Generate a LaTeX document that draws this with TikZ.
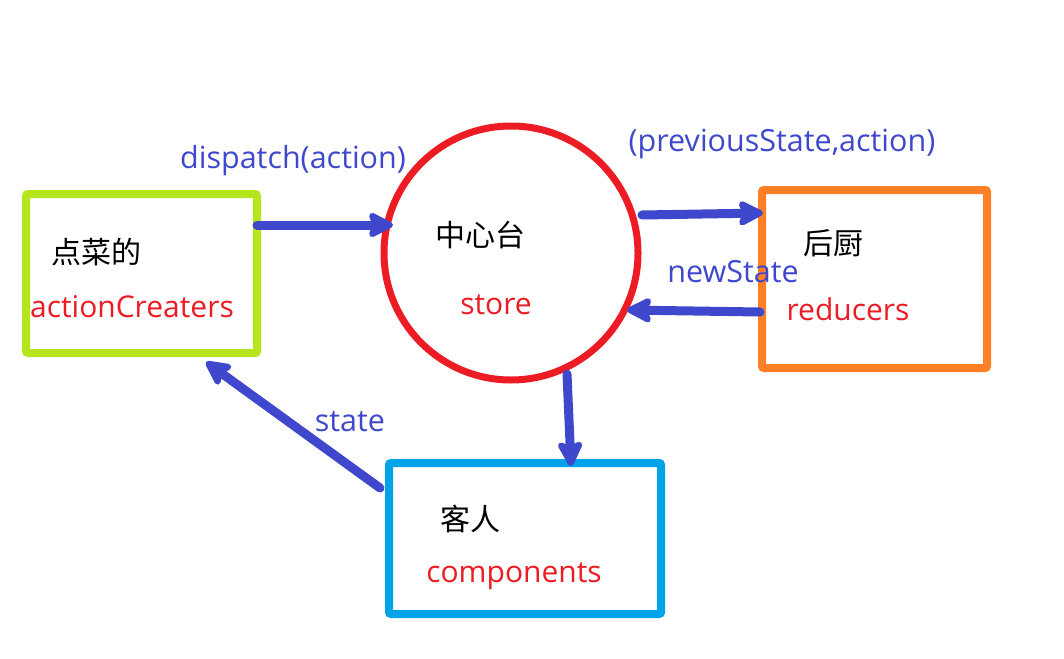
\documentclass[tikz,border=0pt]{standalone}
\usepackage{fontspec}
\setmainfont{Open Sans}
\newfontfamily\cjk{Noto Sans CJK SC}
\usetikzlibrary{arrows.meta}
\definecolor{lime}{HTML}{B5E61D}
\definecolor{cred}{HTML}{ED1C24}
\definecolor{corange}{HTML}{FF7F27}
\definecolor{cblue}{HTML}{00A2E8}
\definecolor{arrowblue}{HTML}{3F48CC}
\begin{document}
\begin{tikzpicture}[x=1pt,y=-1pt,
  box/.style={draw, line width=8pt, rounded corners=2pt},
  flow/.style={draw=arrowblue, line width=9pt, line cap=round,
    -{Stealth[length=30pt,width=30pt,inset=6pt,round=false]}},
  lab/.style={text=arrowblue, font=\fontsize{30.5}{36}\selectfont, inner sep=0pt},
  cn/.style={text=black, font=\cjk\fontsize{30}{36}\selectfont, inner sep=0pt},
  en/.style={text=cred, font=\fontsize{30}{36}\selectfont, inner sep=0pt}]
\useasboundingbox (0,0) rectangle (1064,658);
% shapes
\draw[box, draw=lime] (26,194) rectangle (257,353);
\node[draw=cred, line width=7pt, circle, minimum size=254pt, inner sep=0pt] (store) at (511,253) {};
\draw[box, draw=corange] (762,190) rectangle (987,368);
\draw[box, draw=cblue] (389,463) rectangle (661,614);
% arrow endpoints
\coordinate (a1s) at (257,225); \coordinate (a1e) at (393,225);
\coordinate (a2s) at (642,215); \coordinate (a2e) at (763,213);
\coordinate (a3s) at (760,312); \coordinate (a3e) at (627,310);
\coordinate (a4s) at (567,374); \coordinate (a4e) at (571,466);
\coordinate (a5s) at (380,488); \coordinate (a5e) at (206,362);
\draw[flow] (a1s) -- (a1e);
\draw[flow] (a2s) -- (a2e);
\draw[flow] (a3s) -- (a3e);
\draw[flow] (a4s) -- (a4e);
\draw[flow] (a5s) -- (a5e);
% labels
\node[lab] (l1) at (293,161) {dispatch(action)};
\node[lab] (l2) at (782,144) {(previousState,action)};
\node[lab] (l3) at (733,272) {newState};
\node[lab] (l4) at (350,422) {state};
\node[cn] (t1) at (96,252) {点菜的};
\node[en] (t2) at (132,307) {actionCreaters};
\node[cn] (t3) at (480,235) {中心台};
\node[en] (t4) at (496,305) {store};
\node[cn] (t5) at (833,243) {后厨};
\node[en] (t6) at (848,309) {reducers};
\node[cn] (t7) at (470,519) {客人};
\node[en] (t8) at (514,576) {components};
\end{tikzpicture}
\end{document}
